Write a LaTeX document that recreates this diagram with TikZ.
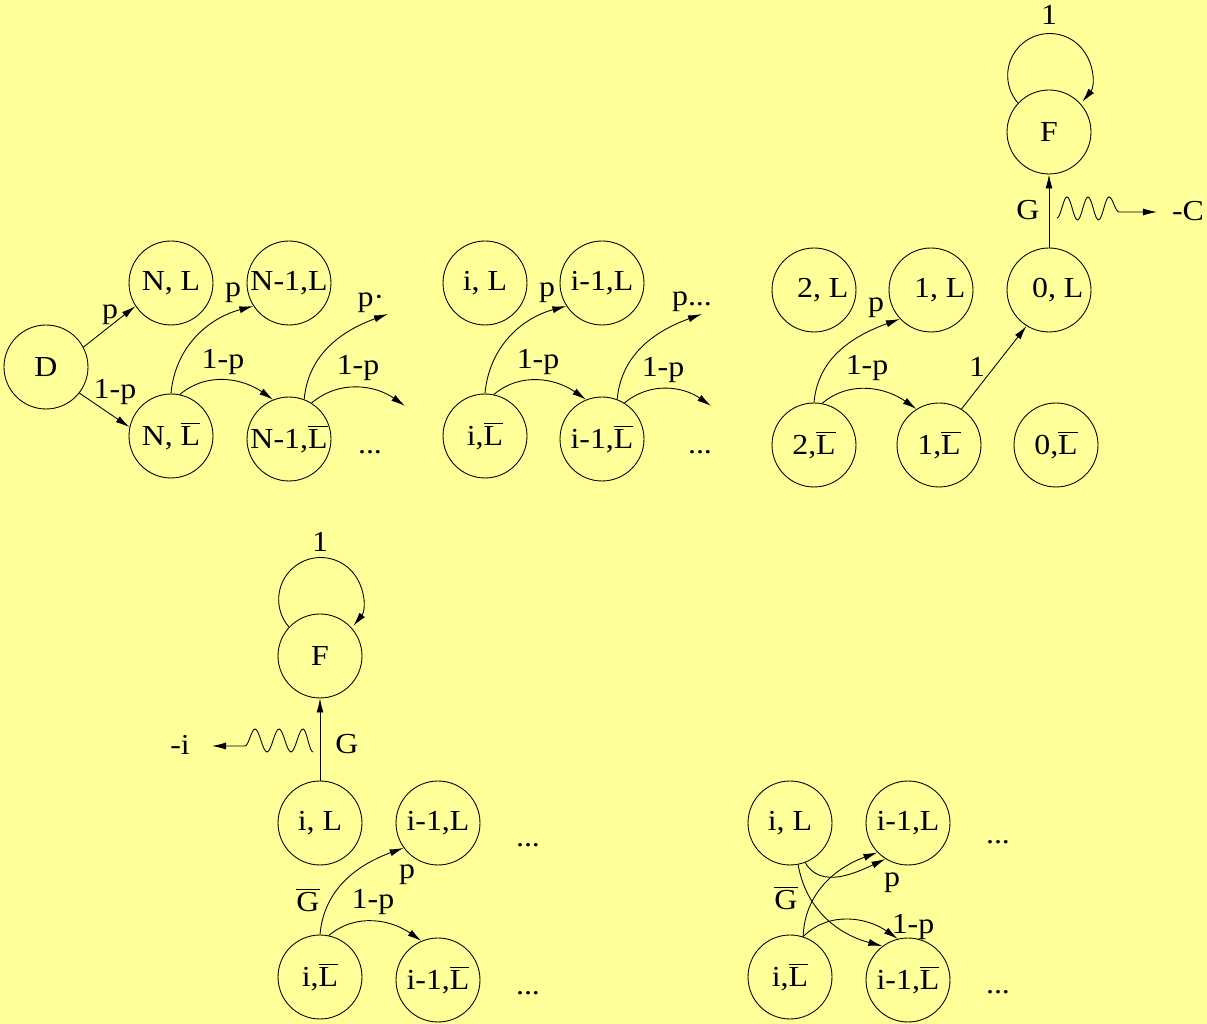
\documentclass[tikz,border=0pt]{standalone}
\usepackage{fontspec}
\setmainfont{Liberation Serif}[FakeStretch=1.1]
\usetikzlibrary{arrows.meta}
\definecolor{paper}{RGB}{255,255,153}
\newcommand{\ovL}{$\overline{\mbox{L}}$}
\newcommand{\ovG}{$\overline{\mbox{G}}$}

\begin{document}
\begin{tikzpicture}[
    x=0.02cm, y=0.02cm,
    font=\fontsize{16.5pt}{19pt}\selectfont,
    state/.style={draw, circle, line width=0.5pt, minimum size=1.68cm, inner sep=0pt},
    arr/.style={-{Latex[length=8pt, width=4pt]}, line width=0.5pt},
    lbl/.style={inner sep=1pt},
]

% Page
\fill[paper] (0,0) rectangle (1207,1024);
\useasboundingbox (0,0) rectangle (1207,1024);

% Top row — from D to the N states
\node[state] (d) at (46,657) {D};
\node[state] (nl) at (171,741) {N, L};
\node[state] (nml) at (289,741) {N-1,L};
\node[state] (nlb) at (171,588) {N, \ovL};
\node[state] (nmlb) at (289,585) {N-1,\ovL};
\node (dotsa) at (370,572) {...};
\coordinate (pa) at (388,710);
\coordinate (qa) at (405,618);

\draw[arr] (d.28) -- (nl.213);
\draw[arr] (d.-38) -- (nlb.168);
\draw[arr] (nlb.90) to[out=85, in=195] (nml.213);
\draw[arr] (nlb.78) to[out=40, in=145] (nmlb.112);
\draw[arr] (nmlb.69) to[out=85, in=200] (pa);
\draw[arr] (nmlb.58) to[out=40, in=145] (qa);
\node[lbl] (lpa) at (110,709) {p};
\node[lbl] (lqa) at (115,632) {1-p};
\node[lbl] (lpb) at (233,731) {p};
\node[lbl] (lqb) at (223,662) {1-p};
\node[lbl] (lpc) at (371,721) {p·};
\node[lbl] (lqc) at (358,656) {1-p};

% Top row — the i states
\node[state] (il) at (485,741) {i, L};
\node[state] (iml) at (602,741) {i-1,L};
\node[state] (ilb) at (485,588) {i,\ovL};
\node[state] (imlb) at (602,585) {i-1,\ovL};
\node (dotsb) at (700,572) {...};
\coordinate (pb) at (702,710);
\coordinate (qb) at (711,618);

\draw[arr] (ilb.90) to[out=85, in=195] (iml.213);
\draw[arr] (ilb.78) to[out=40, in=145] (imlb.112);
\draw[arr] (imlb.69) to[out=85, in=200] (pb);
\draw[arr] (imlb.58) to[out=40, in=145] (qb);
\node[lbl] (lpd) at (547,731) {p};
\node[lbl] (lqd) at (538,662) {1-p};
\node[lbl] (lpe) at (692,722) {p...};
\node[lbl] (lqe) at (663,654) {1-p};

% Top row — last states and F
\node[state] (twol) at (814,734) {\hspace{10pt}2, L};
\node[state] (onel) at (931,734) {\hspace{10pt}1, L};
\node[state] (zerol) at (1049,734) {\hspace{10pt}0, L};
\node[state] (twolb) at (814,579) {2,\ovL};
\node[state] (onelb) at (939,579) {1,\ovL};
\node[state] (zerolb) at (1056,579) {0,\ovL};
\node[state] (fa) at (1049,892) {F};
\coordinate (wa) at (1057,806);
\coordinate (ca) at (1157,812);

\draw[arr] (twolb.90) to[out=85, in=200] (onel.223);
\draw[arr] (twolb.79) to[out=40, in=145] (onelb.122);
\draw[arr] (onelb.58) -- (zerol.238);
\draw[arr] (zerol) -- (fa);
\draw[arr] (fa.137) arc[start angle=221, end angle=-39, radius=42];
\draw[arr] (wa) cos ++(5,10.5) sin ++(5,10.5)
    cos ++(5.25,-11.5) sin ++(5.25,-11.5) cos ++(5.25,11.5) sin ++(5.25,11.5)
    cos ++(5.25,-11.5) sin ++(5.25,-11.5) cos ++(5.25,11.5) sin ++(5.25,11.5)
    cos ++(5,-7.5) sin ++(5,-7.5) -- (ca);
\node[lbl] (lpf) at (876,716) {p};
\node[lbl] (lqf) at (867,656) {1-p};
\node[lbl] (lone) at (977,657) {1};
\node[lbl] (lga) at (1028,814) {G};
\node[lbl] (lca) at (1188,813) {-C};
\node[lbl] (lfa) at (1049,1009) {1};

% Bottom left — i states with F
\node[state] (fb) at (320,368) {F};
\node[state] (bil) at (320,201) {i, L};
\node[state] (biml) at (438,201) {i-1,L};
\node[state] (bilb) at (320,47) {i,\ovL};
\node[state] (bimlb) at (438,44) {i-1,\ovL};
\node (dotsc) at (528,179) {...};
\node (dotsd) at (528,31) {...};
\coordinate (wb) at (313,272);
\coordinate (cb) at (212,278);

\draw[arr] (bil) -- (fb);
\draw[arr] (fb.137) arc[start angle=221, end angle=-39, radius=42];
\draw[arr] (wb) cos ++(-5,11.5) sin ++(-5,11.5)
    cos ++(-6,-11.5) sin ++(-6,-11.5) cos ++(-6,11.5) sin ++(-6,11.5)
    cos ++(-6,-11.5) sin ++(-6,-11.5) cos ++(-6,11.5) sin ++(-6,11.5)
    cos ++(-5,-8.5) sin ++(-5,-8.5) -- (cb);
\draw[arr] (bilb.90) to[out=85, in=200] (biml.216);
\draw[arr] (bilb.78) to[out=40, in=145] (bimlb.113);
\node[lbl] (lfb) at (320,482) {1};
\node[lbl] (lgb) at (347,280) {G};
\node[lbl] (lib) at (180,279) {-i};
\node[lbl] (lpg) at (407,149) {p};
\node[lbl] (lgg) at (308,124) {\ovG};
\node[lbl] (lqg) at (373,122) {1-p};

% Bottom right — crossing arrows
\node[state] (cil) at (790,201) {i, L};
\node[state] (ciml) at (908,201) {i-1,L};
\node[state] (cilb) at (790,47) {i,\ovL};
\node[state] (cimlb) at (908,44) {i-1,\ovL};
\node (dotse) at (998,182) {...};
\node (dotsf) at (998,32) {...};

\draw[arr] (cilb.72) to[out=88, in=200] (ciml.224);
\draw[arr] (cilb.72) to[out=45, in=145] (cimlb.104);
\draw[arr] (cil.291) to[out=-60, in=205] (ciml.238);
\draw[arr] (cil.281) to[out=-80, in=165] (cimlb.127);
\node[lbl] (lgh) at (786,126) {\ovG};
\node[lbl] (lqh) at (913,97) {1-p};
\node[lbl] (lph) at (892,141) {p};

\end{tikzpicture}
\end{document}
